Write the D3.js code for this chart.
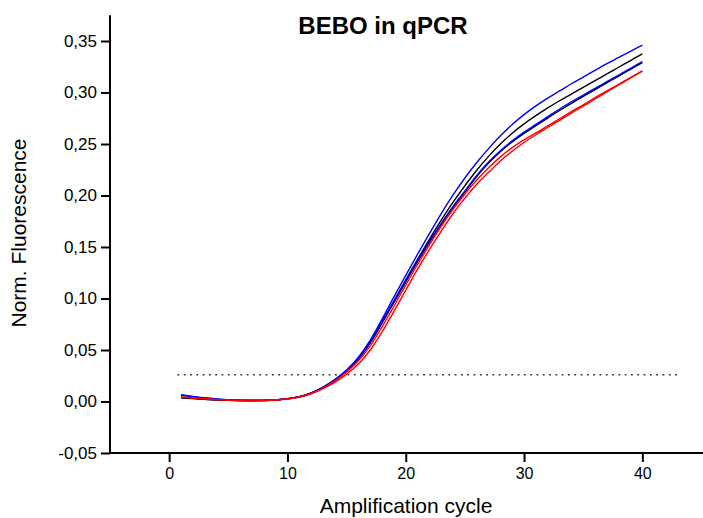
<!DOCTYPE html>
<html>
<head>
<meta charset="utf-8">
<script src="https://cdn.jsdelivr.net/npm/d3@7/dist/d3.min.js"></script>
<style>
    body { margin: 0; background: #fff; }
    text { font-family: "Liberation Sans", Arial, sans-serif; fill: #000; }
</style>
</head>
<body>
<svg id="chart" width="703" height="518"></svg>
<script>
    "use strict";

    //Amplification cycles (x values)
    var cycles = [1, 2, 3, 4, 5, 6, 7, 8, 9, 10, 11, 12, 13, 14, 15, 16, 17, 18, 19, 20,
        21, 22, 23, 24, 25, 26, 27, 28, 29, 30, 31, 32, 33, 34, 35, 36, 37, 38, 39, 40];

    //Normalised fluorescence
    var black1 = [0.0038, 0.0030, 0.0022, 0.0016, 0.0012, 0.0010, 0.0009, 0.0010, 0.0015, 0.0026,
        0.0046, 0.0081, 0.0136, 0.0206, 0.0296, 0.0415, 0.0575, 0.0770, 0.0975, 0.1180,
        0.1380, 0.1575, 0.1760, 0.1935, 0.2095, 0.2245, 0.2380, 0.2500, 0.2605, 0.2695,
        0.2775, 0.2850, 0.2920, 0.2985, 0.3050, 0.3115, 0.3180, 0.3245, 0.3310, 0.3375];
    var black2 = [0.0035, 0.0028, 0.0021, 0.0015, 0.0011, 0.0009, 0.0009, 0.0010, 0.0015, 0.0025,
        0.0045, 0.0080, 0.0134, 0.0204, 0.0294, 0.0412, 0.0570, 0.0762, 0.0962, 0.1162,
        0.1358, 0.1545, 0.1720, 0.1885, 0.2035, 0.2185, 0.2315, 0.2425, 0.2520, 0.2603,
        0.2678, 0.2752, 0.2825, 0.2895, 0.2962, 0.3028, 0.3094, 0.3160, 0.3225, 0.3290];
    var blue1 = [0.0065, 0.0050, 0.0036, 0.0025, 0.0017, 0.0012, 0.0010, 0.0011, 0.0016, 0.0027,
        0.0047, 0.0083, 0.0140, 0.0212, 0.0305, 0.0430, 0.0595, 0.0800, 0.1015, 0.1225,
        0.1430, 0.1630, 0.1825, 0.2005, 0.2170, 0.2320, 0.2455, 0.2580, 0.2690, 0.2785,
        0.2870, 0.2945, 0.3015, 0.3085, 0.3150, 0.3215, 0.3280, 0.3340, 0.3400, 0.3460];
    var blue2 = [0.0060, 0.0046, 0.0033, 0.0023, 0.0016, 0.0011, 0.0010, 0.0011, 0.0016, 0.0027,
        0.0047, 0.0082, 0.0138, 0.0208, 0.0300, 0.0420, 0.0580, 0.0775, 0.0975, 0.1175,
        0.1370, 0.1555, 0.1730, 0.1895, 0.2045, 0.2195, 0.2325, 0.2435, 0.2530, 0.2615,
        0.2690, 0.2765, 0.2840, 0.2910, 0.2975, 0.3040, 0.3105, 0.3170, 0.3235, 0.3300];
    var red1 = [0.0045, 0.0035, 0.0026, 0.0018, 0.0013, 0.0010, 0.0009, 0.0010, 0.0015, 0.0025,
        0.0044, 0.0078, 0.0131, 0.0198, 0.0285, 0.0395, 0.0540, 0.0725, 0.0925, 0.1130,
        0.1330, 0.1520, 0.1700, 0.1865, 0.2015, 0.2150, 0.2270, 0.2375, 0.2465, 0.2540,
        0.2608, 0.2675, 0.2745, 0.2815, 0.2880, 0.2950, 0.3015, 0.3080, 0.3145, 0.3210];
    var red2 = [0.0042, 0.0033, 0.0025, 0.0018, 0.0013, 0.0010, 0.0009, 0.0010, 0.0014, 0.0024,
        0.0042, 0.0074, 0.0124, 0.0186, 0.0265, 0.0365, 0.0500, 0.0675, 0.0875, 0.1080,
        0.1285, 0.1475, 0.1655, 0.1825, 0.1975, 0.2110, 0.2225, 0.2335, 0.2430, 0.2515,
        0.2590, 0.2660, 0.2730, 0.2800, 0.2868, 0.2937, 0.3005, 0.3073, 0.3141, 0.3208];

    //Draw order: black under blue under red
    var seriesList = [
        { name: "black1", values: black1, color: "#000000" },
        { name: "black2", values: black2, color: "#000000" },
        { name: "blue1", values: blue1, color: "#0000ff" },
        { name: "blue2", values: blue2, color: "#0000ff" },
        { name: "red1", values: red1, color: "#ff0000" },
        { name: "red2", values: red2, color: "#ff0000" }
    ];

    //Threshold line
    var thresholdValue = 0.026;
    var thresholdCycles = [0.7, 43.2];

    //Axis ticks
    var xMajorTicks = [0, 10, 20, 30, 40];
    var xMinorTicks = [-5, 5, 15, 25, 35, 45];
    var yMajorTicks = [-0.05, 0, 0.05, 0.10, 0.15, 0.20, 0.25, 0.30, 0.35];
    var yMinorTicks = [-0.025, 0.025, 0.075, 0.125, 0.175, 0.225, 0.275, 0.325, 0.375];

    var svg = d3.select("#chart");

    var x = d3.scaleLinear().domain([-5, 45]).range([110, 701.5]);
    var y = d3.scaleLinear().domain([-0.05, 0.375]).range([453, 15.25]);

    //Origin style labels: decimal comma, plain hyphen for minus
    var commaFmt = function (d) { return d.toFixed(2).replace(".", ","); };

    //Y axis
    var gy = svg.append("g").attr("transform", "translate(110,0)");
    gy.call(d3.axisLeft(y).tickValues(yMinorTicks).tickSize(5).tickFormat(""));
    gy.call(d3.axisLeft(y).tickValues(yMajorTicks).tickSize(9).tickPadding(4).tickFormat(commaFmt));
    gy.selectAll(".domain").remove();
    gy.append("line").attr("x1", 0).attr("x2", 0).attr("y1", y(0.375)).attr("y2", y(-0.05) + 1)
        .attr("stroke", "#000").attr("stroke-width", 2);
    gy.selectAll(".tick line").attr("stroke-width", 2);
    gy.selectAll(".tick text").style("font-size", "17px").style("font-family", "'Liberation Sans', Arial, sans-serif");

    //X axis
    var gx = svg.append("g").attr("transform", "translate(0,453)");
    gx.call(d3.axisBottom(x).tickValues(xMinorTicks).tickSize(5).tickFormat(""));
    gx.call(d3.axisBottom(x).tickValues(xMajorTicks).tickSize(9).tickPadding(6).tickFormat(d3.format("d")));
    gx.selectAll(".domain").remove();
    gx.append("line").attr("x1", 109).attr("x2", 703).attr("y1", 0).attr("y2", 0)
        .attr("stroke", "#000").attr("stroke-width", 2);
    gx.selectAll(".tick line").attr("stroke-width", 2);
    gx.selectAll(".tick text").style("font-size", "16px").style("font-family", "'Liberation Sans', Arial, sans-serif");

    //Threshold
    svg.append("line")
        .attr("x1", x(thresholdCycles[0])).attr("x2", x(thresholdCycles[1]))
        .attr("y1", y(thresholdValue)).attr("y2", y(thresholdValue))
        .attr("stroke", "#333").attr("stroke-width", 1.6)
        .attr("stroke-dasharray", "1.8,4.5");

    //Curves
    var line = d3.line()
        .x(function (d, i) { return x(cycles[i]); })
        .y(function (d) { return y(d); })
        .curve(d3.curveMonotoneX);

    svg.append("g").selectAll("path")
        .data(seriesList)
        .enter().append("path")
        .attr("d", function (s) { return line(s.values); })
        .attr("fill", "none")
        .attr("stroke", function (s) { return s.color; })
        .attr("stroke-width", 1.4);

    //Titles
    svg.append("text")
        .attr("x", 383).attr("y", 34)
        .attr("text-anchor", "middle")
        .style("font-size", "24px").style("font-weight", "bold")
        .text("BEBO in qPCR");

    svg.append("text")
        .attr("x", 406).attr("y", 513)
        .attr("text-anchor", "middle")
        .style("font-size", "21px")
        .text("Amplification cycle");

    svg.append("text")
        .attr("transform", "translate(26,233) rotate(-90)")
        .attr("text-anchor", "middle")
        .style("font-size", "21px")
        .text("Norm. Fluorescence");
</script>
</body>
</html>
